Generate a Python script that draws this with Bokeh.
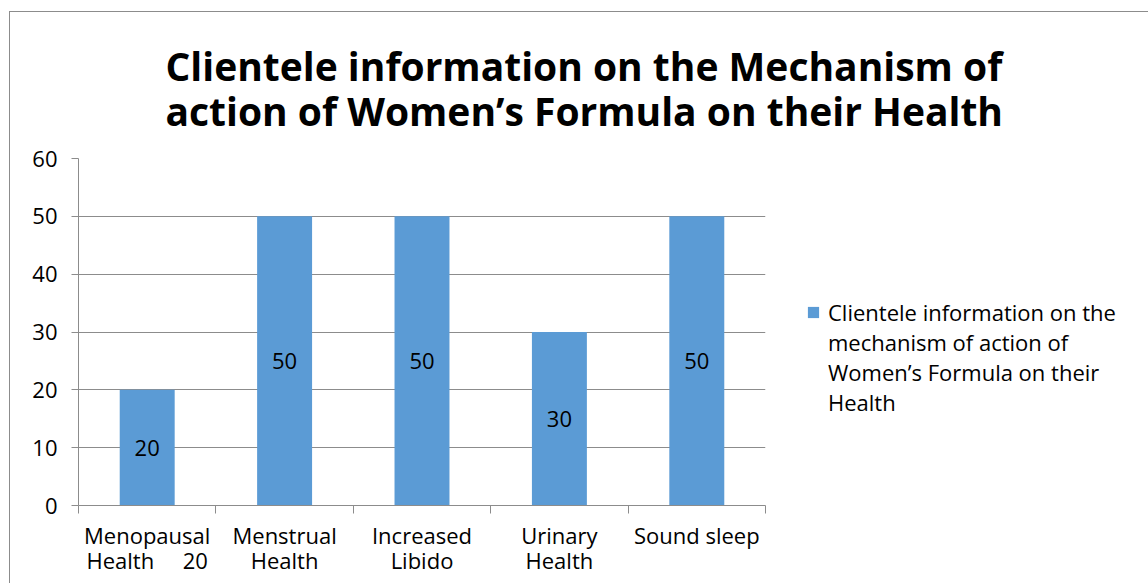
from bokeh.plotting import figure
from bokeh.models import (ColumnDataSource, FixedTicker, Legend, LegendItem, Range1d)
from bokeh.embed import file_html
from bokeh.resources import INLINE
from bokeh.core.properties import value

categories = ["Menopausal\nHealth\u00a0\u00a0\u00a0\u00a0\u00a020", "Menstrual\nHealth",
              "Increased\nLibido", "Urinary\nHealth", "Sound sleep"]
values = [20, 50, 50, 30, 50]
y_ticks = [0, 10, 20, 30, 40, 50, 60]
title_lines = ["Clientele information on the Mechanism of",
               "action of Women\u2019s Formula on their Health"]
series_lines = ["Clientele information on the", "mechanism of action of",
                "Women\u2019s Formula on their", "Health"]

FONT = "Open Sans"
BAR = "#5B9BD5"
GRID = "#8C8C8C"

xs = [i + 0.5 for i in range(len(categories))]
src = ColumnDataSource(dict(x=xs, top=values, mid=[v / 2 for v in values],
                            lab=[str(v) for v in values]))

p = figure(width=1138, height=571, output_backend="svg", toolbar_location=None,
           x_range=Range1d(0, len(categories)), y_range=Range1d(0, 60),
           frame_width=687, frame_height=347,
           min_border_left=68, min_border_right=383, min_border_top=146,
           min_border_bottom=78)
p.styles = {"margin-left": "9px", "margin-top": "11px",
            "border-left": "1px solid #8C8C8C", "border-top": "1px solid #8C8C8C"}
p.outline_line_color = None
p.xgrid.grid_line_color = None
p.ygrid.grid_line_color = GRID
p.ygrid.ticker = FixedTicker(ticks=y_ticks)

bars = p.vbar(x="x", top="top", width=0.4, bottom=0, source=src,
              fill_color=BAR, line_color=None)
blank = p.vbar(x=[], top=[], width=0.4, fill_alpha=0, line_alpha=0)
p.text(x="x", y="mid", text="lab", source=src, text_align="center",
       text_baseline="middle", text_font=value(FONT), text_font_size="22px",
       text_color="#000000")

# y axis
p.yaxis.ticker = FixedTicker(ticks=y_ticks)
p.yaxis.axis_line_color = GRID
p.yaxis.major_tick_line_color = GRID
p.yaxis.major_tick_out = 7
p.yaxis.major_tick_in = 0
p.yaxis.minor_tick_line_color = None
p.yaxis.major_label_text_font = FONT
p.yaxis.major_label_text_font_size = "22px"
p.yaxis.major_label_text_color = "#000000"
p.yaxis.major_label_standoff = 14

# x axis: labels at centres, tick marks at category boundaries
p.xaxis.ticker = FixedTicker(ticks=xs, minor_ticks=list(range(len(categories) + 1)))
p.xaxis.major_label_overrides = {x: c for x, c in zip(xs, categories)}
p.xaxis.axis_line_color = GRID
p.xaxis.major_tick_line_color = None
p.xaxis.minor_tick_line_color = GRID
p.xaxis.minor_tick_out = 8
p.xaxis.minor_tick_in = 0
p.xaxis.major_label_text_font = FONT
p.xaxis.major_label_text_font_size = "22px"
p.xaxis.major_label_text_color = "#000000"
p.xaxis.major_label_text_line_height = 0.85
p.xaxis.major_label_standoff = 6

# title
p.title.text = "\n".join(title_lines)
p.title.align = "left"
p.title.offset = 87
p.title.text_font = FONT
p.title.text_font_size = "39px"
p.title.text_font_style = "bold"
p.title.text_color = "#000000"
p.title.text_line_height = 0.85
p.title.standoff = 43

items = [LegendItem(label=series_lines[0], renderers=[bars])] + \
        [LegendItem(label=t, renderers=[blank]) for t in series_lines[1:]]
legend = Legend(items=items, location=(41, 88), border_line_color=None,
                background_fill_alpha=0,
                label_text_font=FONT, label_text_font_size="22px",
                label_text_color="#000000", glyph_width=14, glyph_height=14,
                label_height=26, label_standoff=8, padding=0, margin=0, spacing=0)
p.add_layout(legend, "right")

open("out.html", "w").write(file_html(p, INLINE))
